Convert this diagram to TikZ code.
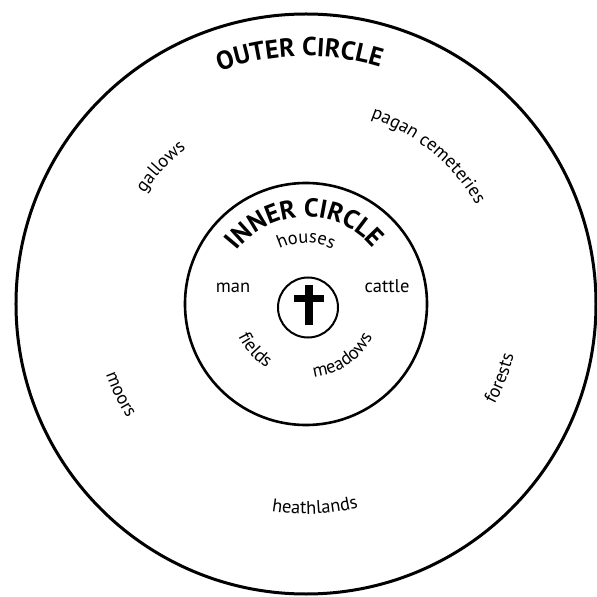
\documentclass[tikz,border=0pt]{standalone}
\usepackage{fontspec}
\setmainfont{PT Sans}
\usetikzlibrary{decorations.text}
\newcommand\wfont{\fontsize{18.5}{20}\selectfont}
\newcommand\tfont{\fontsize{26}{30}\selectfont\bfseries}
\newcommand\frowntext[4]{\path[decorate,decoration={text along path,text align=center,text={#4}}] (#1+#3:#2) arc[start angle=#1+#3,end angle=#1-#3,radius=#2];}
\newcommand\smiletext[4]{\path[decorate,decoration={text along path,text align=center,text={#4}}] (#1-#3:#2) arc[start angle=#1-#3,end angle=#1+#3,radius=#2];}
\begin{document}
\begin{tikzpicture}[x=1pt,y=1pt]
\useasboundingbox (-306,-293) rectangle (291,304);
\fill[white] (-306,-293) rectangle (291,304);
% circles
\draw[line width=3pt] (0,0) circle[radius=290];
\draw[line width=2.6pt] (0,0) circle[radius=121];
\draw[line width=2pt] (2,-3.5) circle[radius=30];
% cross
\fill (-1,-21) rectangle (7,19);
\fill (-12,2) rectangle (18,9);
% straight words
\node[font=\wfont, anchor=base] (man) at (-73,11) {man};
\node[font=\wfont, anchor=base] (cattle) at (81,11) {cattle};
% titles
\frowntext{91.5}{248}{40}{|\tfont|OUTER CIRCLE}
\frowntext{91}{87}{88}{|\tfont|INNER CIRCLE}
% inner words
\frowntext{90}{61}{70}{|\wfont|houses}
\smiletext{222}{75}{70}{|\wfont|fields}
\smiletext{305}{74}{70}{|\wfont|meadows}
% outer words
\frowntext{136.6}{196}{30}{|\wfont|gallows}
\frowntext{50.5}{197}{45}{|\wfont|pagan cemeteries}
\smiletext{206}{212}{30}{|\wfont|moors}
\smiletext{339}{214}{30}{|\wfont|forests}
\smiletext{272.5}{210}{30}{|\wfont|heathlands}
\end{tikzpicture}
\end{document}
